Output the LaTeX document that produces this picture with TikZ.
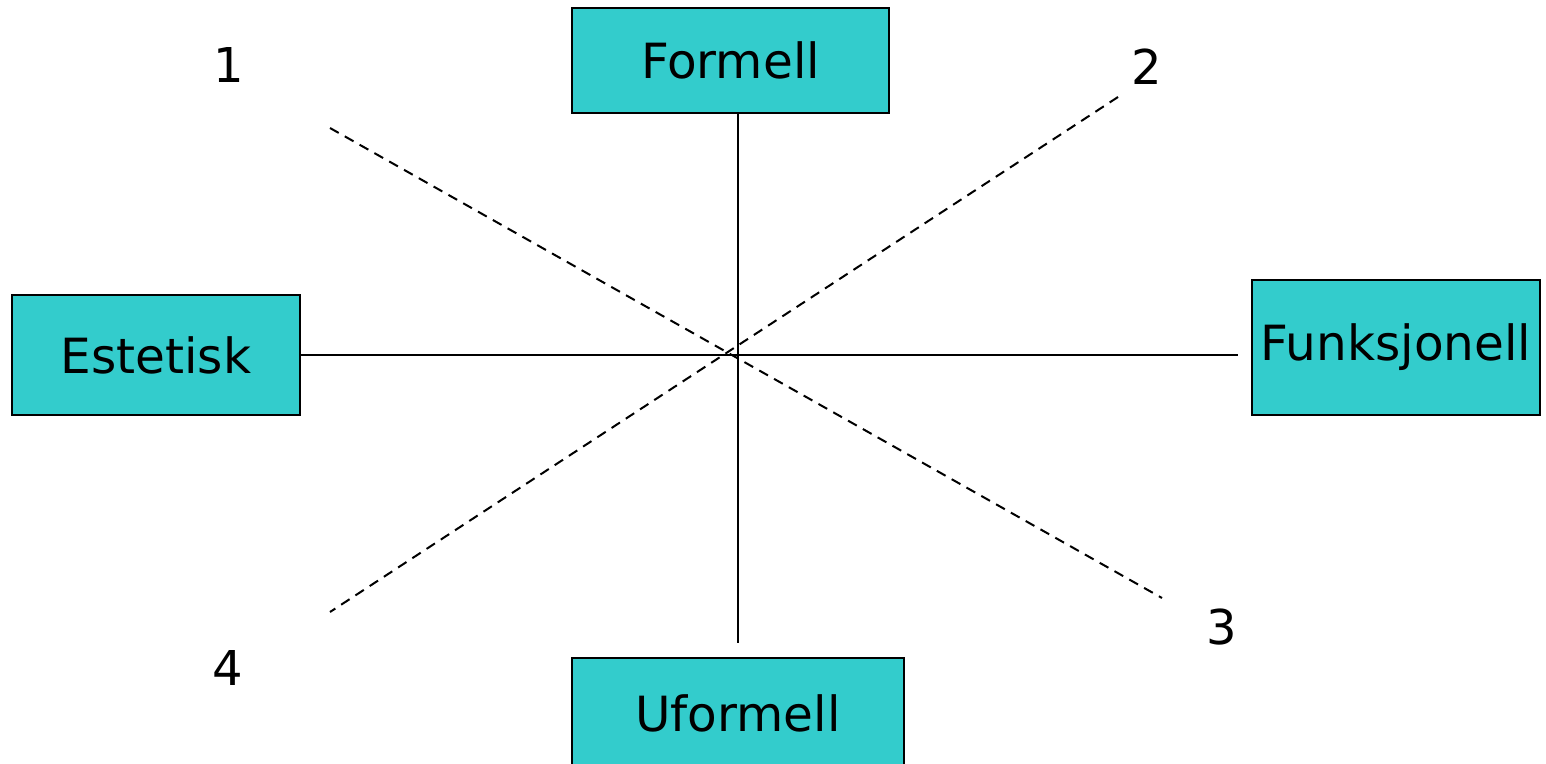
\documentclass[tikz,border=0pt]{standalone}
\usepackage{fontspec}
\setmainfont{DejaVu Sans}
\definecolor{boxfill}{HTML}{33CCCC}
\begin{document}
\begin{tikzpicture}[x=1pt,y=-1pt,
  pole/.style={draw=black,line width=2pt,fill=boxfill,inner sep=0pt,font=\fontsize{48.5}{52}\selectfont},
  num/.style={inner sep=0pt,font=\fontsize{48}{52}\selectfont},
  axis/.style={line width=2pt},
  diag/.style={line width=2pt,dash pattern=on 10pt off 7pt}]
\useasboundingbox (0,0) rectangle (1546,763);
\begin{scope}
\clip (0,0) rectangle (1546,763);
\node[pole,minimum width=317pt,minimum height=105pt] (formell) at (730.5,60.5) {Formell};
\node[pole,minimum width=288pt,minimum height=120pt] (estetisk) at (156,355) {Estetisk};
\node[pole,minimum width=288pt,minimum height=135pt] (funk) at (1396,347.5) {Funksjonell};
\node[pole,minimum width=332pt,minimum height=115pt] (uformell) at (738,715.5) {};
\end{scope}
\node[font=\fontsize{48.5}{52}\selectfont,inner sep=0pt] (utext) at (738,713) {Uformell};
\node[num] (n1) at (229,65) {1};
\node[num] (n2) at (1147,67) {2};
\node[num] (n3) at (1222,627) {3};
\node[num] (n4) at (228,668) {4};
\coordinate (vtop) at (738,113);
\coordinate (vbot) at (738,643);
\coordinate (hleft) at (300,355);
\coordinate (hright) at (1238,355);
\coordinate (d1a) at (330,128);
\coordinate (d1b) at (1162,598);
\coordinate (d2a) at (1118,97);
\coordinate (d2b) at (330,612);
\draw[axis] (vtop) -- (vbot);
\draw[axis] (hleft) -- (hright);
\draw[diag] (d1a) -- (d1b);
\draw[diag] (d2a) -- (d2b);
\end{tikzpicture}
\end{document}
